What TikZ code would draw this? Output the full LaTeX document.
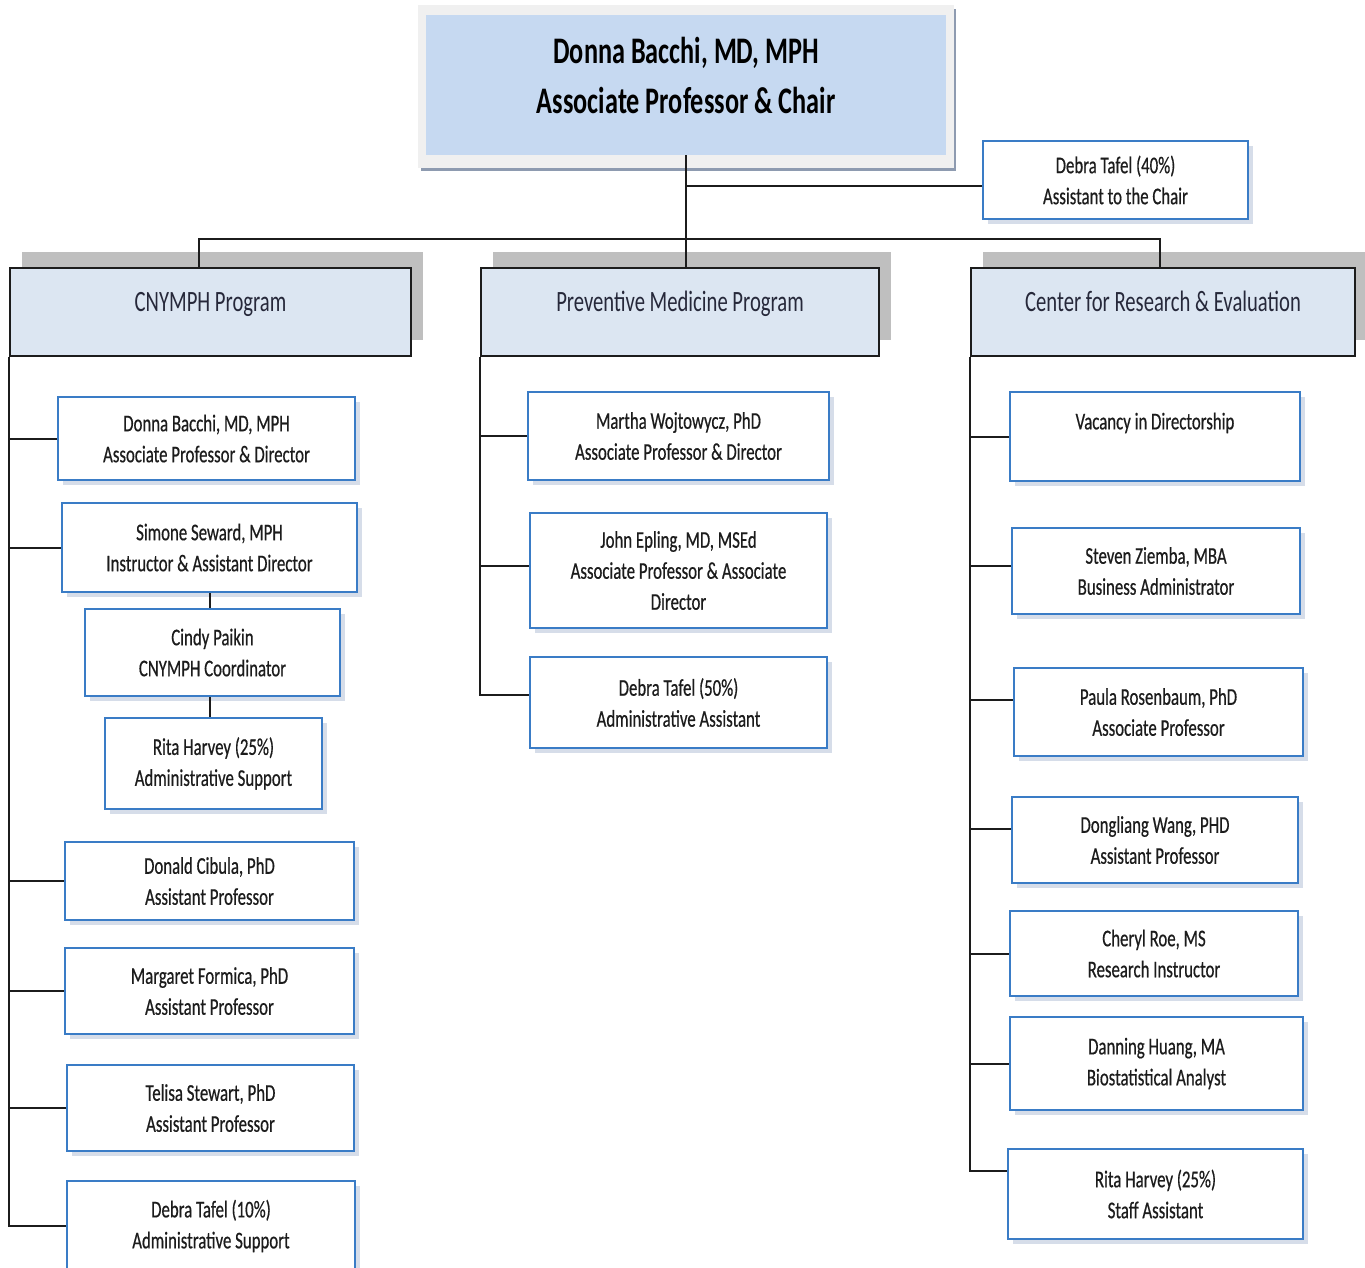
\documentclass[tikz,border=0pt]{standalone}
\usepackage{fontspec}
\setmainfont{Carlito}[FakeStretch=0.7]
\newfontfamily\chartfont{Carlito}[FakeStretch=0.7, FakeBold=0.5]
\usetikzlibrary{positioning, shadows}
\definecolor{cblue}{HTML}{3A7CC6}
\definecolor{cshade}{HTML}{D6DDE9}
\definecolor{chead}{HTML}{DCE6F2}
\definecolor{cchair}{HTML}{C6D9F1}
\definecolor{cframe}{HTML}{F0F0F0}
\definecolor{cframedark}{HTML}{8E9BB0}
\definecolor{cgreyshadow}{HTML}{BFBFBF}
\definecolor{cink}{HTML}{1C1C1C}
\definecolor{cnavy}{HTML}{26283A}
\tikzset{
  person/.style={draw=cblue, fill=white, line width=2pt, anchor=north west, align=center,
    inner sep=2pt, text=cink, font=\chartfont\fontsize{24}{31}\selectfont,
    drop shadow={shadow xshift=5pt, shadow yshift=-5pt, fill=cshade, opacity=1}},
  unit/.style={draw=cink, fill=chead, line width=2pt, anchor=north west, align=center,
    text=cnavy, font=\fontsize{29.5}{34}\selectfont, text height=20pt, text depth=22pt,
    drop shadow={shadow xshift=12pt, shadow yshift=16pt, fill=cgreyshadow, opacity=1}},
  chairbox/.style={fill=cchair, anchor=north west, align=center, text=black,
    font=\fontsize{37.5}{50}\selectfont\bfseries, text depth=20pt},
  link/.style={draw=cink, line width=2pt},
}

\begin{document}
\begin{tikzpicture}[x=1pt, y=-1pt]
  \useasboundingbox (0,0) rectangle (1365,1268);
  % chair
  \fill[cframedark] (421,9) rectangle (956,171);
  \fill[cframe] (418,5) rectangle (954,168);
  \node[chairbox, minimum width=520, minimum height=140] (chair) at (426,15) {Donna Bacchi, MD, MPH\\Associate Professor \& Chair};
  \node[person, minimum width=265, minimum height=78] (tafel40) at (982,140) {Debra Tafel (40\%)\\Assistant to the Chair};
  % programs
  \node[unit, minimum width=401, minimum height=88] (cny) at (9,267) {CNYMPH Program};
  \node[unit, minimum width=398, minimum height=88] (prev) at (480,267) {Preventive Medicine Program};
  \node[unit, minimum width=384, minimum height=88] (cre) at (970,267) {Center for Research \& Evaluation};
  % CNYMPH staff
  \node[person, minimum width=297, minimum height=83] (c1) at (57,396) {Donna Bacchi, MD, MPH\\Associate Professor \& Director};
  \node[person, minimum width=295, minimum height=89] (c2) at (61,502) {Simone Seward, MPH\\Instructor \& Assistant Director};
  \node[person, minimum width=255, minimum height=87] (c3) at (84,608) {Cindy Paikin\\CNYMPH Coordinator};
  \node[person, minimum width=217, minimum height=91] (c4) at (104,717) {Rita Harvey (25\%)\\Administrative Support};
  \node[person, minimum width=289, minimum height=78] (c5) at (64,841) {Donald Cibula, PhD\\Assistant Professor};
  \node[person, minimum width=289, minimum height=86] (c6) at (64,947) {Margaret Formica, PhD\\Assistant Professor};
  \node[person, minimum width=287, minimum height=86] (c7) at (66,1064) {Telisa Stewart, PhD\\Assistant Professor};
  \node[person, minimum width=288, minimum height=90] (c8) at (66,1180) {Debra Tafel (10\%)\\Administrative Support};
  % preventive medicine staff
  \node[person, minimum width=301, minimum height=88] (p1) at (527,391) {Martha Wojtowycz, PhD\\Associate Professor \& Director};
  \node[person, minimum width=297, minimum height=115] (p2) at (529,512) {John Epling, MD, MSEd\\Associate Professor \& Associate\\Director};
  \node[person, minimum width=297, minimum height=91] (p3) at (529,656) {Debra Tafel (50\%)\\Administrative Assistant};
  % research center staff
  \node[person, minimum width=290, minimum height=89] (r1) at (1009,391) {Vacancy in Directorship\\\mbox{}};
  \node[person, minimum width=288, minimum height=86] (r2) at (1011,527) {Steven Ziemba, MBA\\Business Administrator};
  \node[person, minimum width=289, minimum height=88] (r3) at (1013,667) {Paula Rosenbaum, PhD\\Associate Professor};
  \node[person, minimum width=286, minimum height=86] (r4) at (1011,796) {Dongliang Wang, PHD\\Assistant Professor};
  \node[person, minimum width=288, minimum height=85] (r5) at (1009,910) {Cheryl Roe, MS\\Research Instructor};
  \node[person, minimum width=293, minimum height=93] (r6) at (1009,1016) {Danning Huang, MA\\Biostatistical Analyst};
  \node[person, minimum width=295, minimum height=90] (r7) at (1007,1148) {Rita Harvey (25\%)\\Staff Assistant};
  % connectors
  \coordinate (bus) at (683,239);
  \coordinate (t40in) at ([yshift=-6]tafel40.west);
  \draw[link] (chair.south) -- (chair.south |- prev.north);
  \draw[link] (chair.south |- t40in) -- (t40in);
  \draw[link] ([xshift=-12]cny.north) |- (bus) -| ([xshift=-3]cre.north);
  \foreach \n in {c1,c2,c5,c6,c7,c8}
    \draw[link] (cny.south west) |- (\n.west);
  \draw[link] (c2.south) -- (c2.south |- c3.north);
  \draw[link] (c2.south |- c3.south) -- (c2.south |- c4.north);
  % branches sit a little above the box middles
  \foreach \n/\dy in {p1/0, p2/5, p3/8}
    \draw[link] (prev.south west) |- ([yshift=\dy]\n.west);
  \foreach \n/\dy in {r1/0, r2/5, r3/12, r4/11, r5/0, r6/0, r7/23}
    \draw[link] (cre.south west) |- ([yshift=\dy]\n.west);
\end{tikzpicture}
\end{document}
